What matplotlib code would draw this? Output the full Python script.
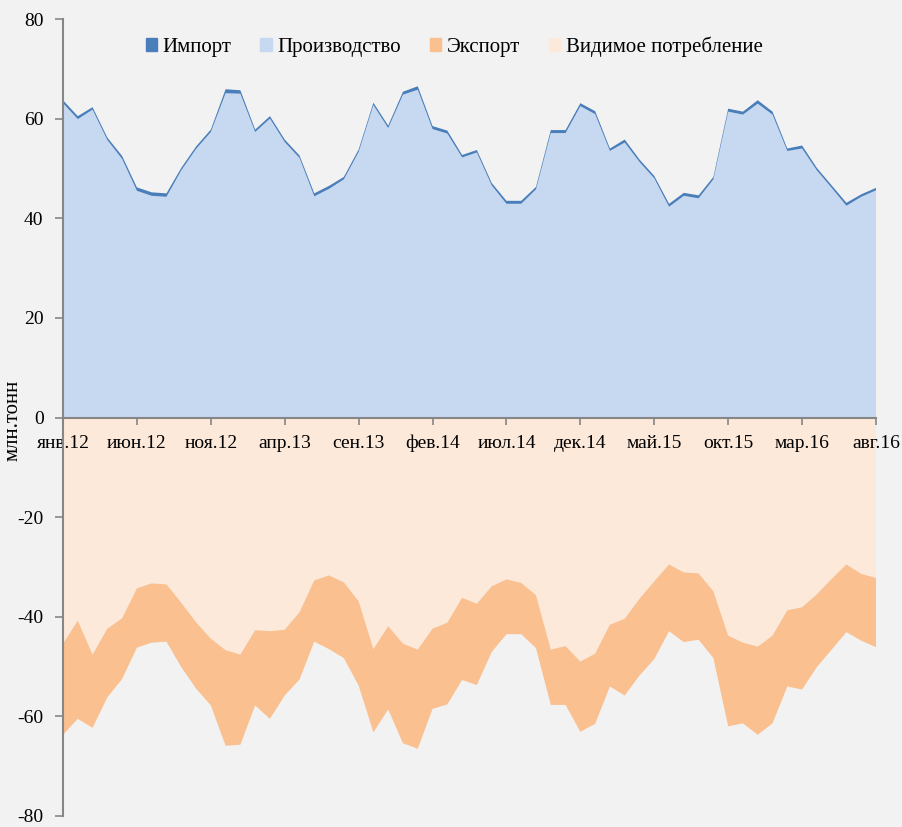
import numpy as np
import matplotlib.pyplot as plt
from matplotlib.patches import Patch

plt.rcParams['font.family'] = ['Liberation Serif', 'DejaVu Serif']
plt.rcParams['axes.unicode_minus'] = False

# monthly data, янв.12 .. авг.16 (млн. тонн)
months = ['янв.12', 'июн.12', 'ноя.12', 'апр.13', 'сен.13', 'фев.14',
          'июл.14', 'дек.14', 'май.15', 'окт.15', 'мар.16', 'авг.16']

production = [63.1, 59.9, 61.8, 55.7, 51.9, 45.5, 44.5, 44.3, 49.6, 53.9,
              57.3, 65.1, 65.0, 57.3, 60.0, 55.3, 52.1, 44.4, 45.9, 47.8,
              53.3, 62.7, 58.1, 64.8, 65.8, 57.9, 57.0, 52.2, 53.2, 46.6,
              42.9, 42.9, 45.8, 57.1, 57.1, 62.5, 60.9, 53.5, 55.2, 51.3,
              48.0, 42.3, 44.5, 44.0, 47.8, 61.4, 60.8, 63.0, 60.8, 53.5,
              54.0, 49.6, 46.1, 42.5, 44.3, 45.6]
imports = [0.6, 0.6, 0.5, 0.5, 0.6, 0.7, 0.7, 0.7, 0.5, 0.5,
           0.5, 0.8, 0.7, 0.5, 0.5, 0.5, 0.5, 0.6, 0.6, 0.5,
           0.5, 0.5, 0.5, 0.6, 0.7, 0.6, 0.6, 0.5, 0.5, 0.5,
           0.6, 0.6, 0.5, 0.6, 0.6, 0.6, 0.6, 0.5, 0.6, 0.5,
           0.5, 0.6, 0.6, 0.6, 0.5, 0.6, 0.6, 0.7, 0.6, 0.5,
           0.6, 0.5, 0.5, 0.6, 0.5, 0.5]
consumption = [45.4, 40.8, 47.6, 42.4, 40.3, 34.3, 33.3, 33.5, 37.2, 41.1,
               44.4, 46.7, 47.6, 42.7, 42.9, 42.6, 39.1, 32.7, 31.7, 33.1,
               36.9, 46.5, 41.9, 45.4, 46.6, 42.4, 41.2, 36.2, 37.4, 33.9,
               32.5, 33.2, 35.7, 46.6, 45.9, 49.0, 47.4, 41.6, 40.4, 36.4,
               32.9, 29.5, 31.1, 31.3, 34.9, 43.8, 45.2, 46.0, 43.8, 38.7,
               38.1, 35.5, 32.4, 29.5, 31.4, 32.2]
exports = [18.3, 19.7, 14.7, 13.8, 12.2, 11.9, 11.9, 11.5, 12.9, 13.3,
           13.4, 19.2, 18.1, 15.1, 17.6, 13.2, 13.5, 12.3, 14.8, 15.2,
           16.9, 16.7, 16.7, 20.0, 19.9, 16.1, 16.4, 16.5, 16.3, 13.2,
           11.0, 10.3, 10.6, 11.1, 11.8, 14.1, 14.1, 12.4, 15.4, 15.4,
           15.6, 13.4, 14.0, 13.3, 13.4, 18.2, 16.2, 17.7, 17.6, 15.3,
           16.5, 14.6, 14.2, 13.6, 13.4, 13.9]

x = np.arange(len(production))
bg = '#F2F2F2'
c_prod, c_imp = '#C6D9F1', '#4A7EBB'
c_cons, c_exp = '#FDE9D9', '#FAC090'

fig = plt.figure(figsize=(9.02, 8.27), dpi=100, facecolor=bg)
ax = fig.add_axes([63 / 902, 11 / 827, 813 / 902, 797 / 827], facecolor=bg)

ax.stackplot(x, production, imports, colors=[c_prod, c_imp], linewidth=0)
ax.stackplot(x, -np.array(consumption), -np.array(exports),
             colors=[c_cons, c_exp], linewidth=0)

ax.set_xlim(0, len(x) - 1)
ax.set_ylim(-80, 80)
ax.set_yticks(range(-80, 81, 20))
ax.set_xticks(x[::5])
ax.set_xticklabels(months)

for s in ['top', 'right']:
    ax.spines[s].set_visible(False)
ax.spines['bottom'].set_position(('data', 0))
for s in ['left', 'bottom']:
    ax.spines[s].set_color('#868686')
    ax.spines[s].set_linewidth(1.5)
ax.tick_params(axis='y', direction='out', length=6, width=1.2, color='#868686',
               labelsize=14, pad=8)
ax.tick_params(axis='x', direction='out', length=5, width=1.2, color='#868686',
               labelsize=14, pad=17)
# align month labels on their baseline so "фев" does not sit lower
for lbl in ax.get_xticklabels():
    lbl.set_verticalalignment('baseline')

ax.set_ylabel('млн.тонн', fontsize=15)
ax.yaxis.set_label_coords(-0.05, 0.497)

handles = [Patch(color=c_imp), Patch(color=c_prod),
           Patch(color=c_exp), Patch(color=c_cons)]
labels = ['Импорт', 'Производство', 'Экспорт', 'Видимое потребление']
ax.legend(handles, labels, loc='center', bbox_to_anchor=(0.481, 0.965),
          ncol=4, frameon=False, fontsize=15, handlelength=0.55,
          handleheight=0.55, handletextpad=0.25, columnspacing=1.4)

fig.savefig('out.png', dpi=100, facecolor=bg)
